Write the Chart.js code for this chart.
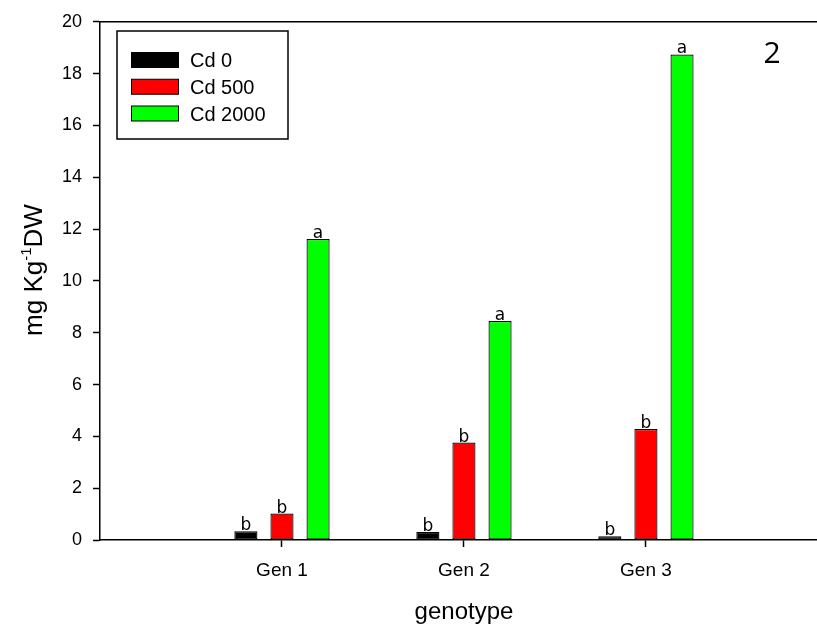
<!DOCTYPE html>
<html>
<head>
<meta charset="utf-8">
<script src="https://cdn.jsdelivr.net/npm/chart.js@4/dist/chart.umd.min.js"></script>
<style>
  html, body { margin: 0; padding: 0; background: #ffffff; }
  #wrap { width: 817px; height: 629px; }
</style>
</head>
<body>
<div id="wrap"><canvas id="c" width="817" height="629"></canvas></div>
<script>
// ---- data ----
const categories = ['Gen 1', 'Gen 2', 'Gen 3'];
const seriesNames = ['Cd 0', 'Cd 500', 'Cd 2000'];
const cd0 = [0.34, 0.31, 0.14];
const cd500 = [1.02, 3.76, 4.28];
const cd2000 = [11.62, 8.45, 18.74];
const letters0 = ['b', 'b', 'b'];
const letters500 = ['b', 'b', 'b'];
const letters2000 = ['a', 'a', 'a'];
const yMin = 0, yMax = 20, yStep = 2;
const panelLabel = '2';
const xTitle = 'genotype';

const FONT = "'Liberation Sans', Arial, sans-serif";
const colors = ['#000000', '#ff0000', '#00ff00'];
const seriesValues = [cd0, cd500, cd2000];
const seriesLetters = [letters0, letters500, letters2000];

const datasets = seriesValues.map((vals, k) => ({
  label: seriesNames[k],
  data: vals.map((v, i) => ({ x: i + 1, y: v })),
  backgroundColor: colors[k],
  borderColor: '#000000',
  borderWidth: 1.2,
  borderSkipped: false,
  categoryPercentage: 0.595,
  barPercentage: 0.64,
  letters: seriesLetters[k]
}));

const decor = {
  id: 'decor',
  afterDraw(chart) {
    const ctx = chart.ctx;
    const a = chart.chartArea;
    ctx.save();
    // top frame line
    ctx.strokeStyle = '#000';
    ctx.lineWidth = 1.5;
    ctx.beginPath();
    ctx.moveTo(a.left, a.top);
    ctx.lineTo(a.right, a.top);
    ctx.stroke();

    // significance letters
    ctx.fillStyle = '#000';
    ctx.font = "17px 'DejaVu Sans', sans-serif";
    ctx.textAlign = 'center';
    ctx.textBaseline = 'alphabetic';
    chart.data.datasets.forEach((ds, k) => {
      const meta = chart.getDatasetMeta(k);
      meta.data.forEach((el, i) => {
        ctx.fillText(ds.letters[i], el.x, el.y - 1);
      });
    });

    // legend
    const lx = 117, ly = 31, lw = 171, lh = 108;
    ctx.lineWidth = 1.5;
    ctx.strokeStyle = '#000';
    ctx.strokeRect(lx, ly, lw, lh);
    ctx.font = '20px ' + FONT;
    ctx.textAlign = 'left';
    ctx.textBaseline = 'middle';
    chart.data.datasets.forEach((ds, k) => {
      const cy = 60 + k * 26.75;
      ctx.fillStyle = ds.backgroundColor;
      ctx.fillRect(131, cy - 7.5, 48, 15);
      ctx.lineWidth = 1;
      ctx.strokeStyle = '#000';
      ctx.strokeRect(131.5, cy - 7.5, 47, 15);
      ctx.fillStyle = '#000';
      ctx.fillText(ds.label, 190, cy + 1.5);
    });

    // panel label
    ctx.font = "30px 'Open Sans', sans-serif";
    ctx.textAlign = 'center';
    ctx.textBaseline = 'alphabetic';
    ctx.fillText(panelLabel, 772, 63);

    // x title
    const xs = chart.scales.x;
    ctx.font = '24px ' + FONT;
    ctx.fillText(xTitle, xs.getPixelForValue(2), 619);

    // y title with superscript
    ctx.translate(42, 270);
    ctx.rotate(-Math.PI / 2);
    const big = '26px ' + FONT, small = '15px ' + FONT;
    const parts = [['mg Kg', big, 0], ['-1', small, -11], ['DW', big, 0]];
    let total = 0;
    parts.forEach(p => { ctx.font = p[1]; total += ctx.measureText(p[0]).width; });
    let x = -total / 2;
    ctx.textAlign = 'left';
    parts.forEach(p => {
      ctx.font = p[1];
      ctx.fillText(p[0], x, p[2]);
      x += ctx.measureText(p[0]).width;
    });
    ctx.restore();
  }
};

new Chart(document.getElementById('c'), {
  type: 'bar',
  data: { datasets },
  options: {
    responsive: false,
    devicePixelRatio: 1,
    animation: false,
    layout: { padding: { top: 17, left: 0, right: 0, bottom: 0 } },
    plugins: { legend: { display: false }, tooltip: { enabled: false } },
    scales: {
      x: {
        type: 'linear',
        offset: false,
        min: 0,
        max: 3.94,
        afterBuildTicks: s => { s.ticks = categories.map((c, i) => ({ value: i + 1 })); },
        ticks: {
          autoSkip: false,
          maxRotation: 0,
          padding: 12,
          color: '#000',
          font: { family: FONT, size: 19 },
          callback: (v, i) => categories[i]
        },
        grid: { display: true, offset: false, drawOnChartArea: false, drawTicks: true, tickLength: 7, tickColor: '#000', tickWidth: 1.5 },
        border: { display: true, color: '#000', width: 1.5 },
        afterFit: s => { s.height = 89; }
      },
      y: {
        min: yMin,
        max: yMax,
        ticks: {
          stepSize: yStep,
          padding: 11,
          color: '#000',
          font: { family: FONT, size: 18 }
        },
        grid: { display: true, drawOnChartArea: false, drawTicks: true, tickLength: 7, tickColor: '#000', tickWidth: 1.5 },
        border: { display: true, color: '#000', width: 1.5 },
        afterFit: s => { s.width = 100; }
      }
    }
  },
  plugins: [decor]
});
</script>
</body>
</html>
